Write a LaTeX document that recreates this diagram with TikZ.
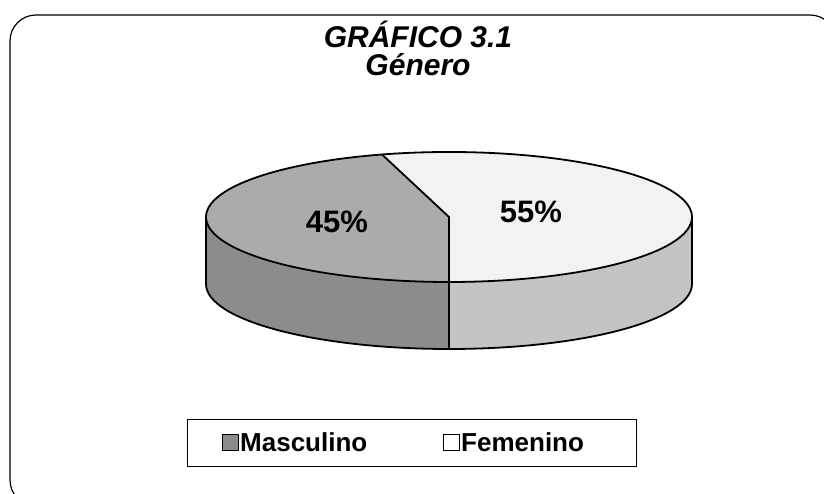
\documentclass[tikz,border=0pt]{standalone}
\usepackage{fontspec}
\setmainfont{Liberation Sans}
\definecolor{mtop}{HTML}{ABABAB}
\definecolor{mside}{HTML}{8C8C8C}
\definecolor{ftop}{HTML}{F2F2F2}
\definecolor{fside}{HTML}{C4C4C4}
\begin{document}
\begin{tikzpicture}[x=1pt,y=1pt,line join=round,
  ttl/.style={font=\fontsize{30}{32}\selectfont\bfseries\itshape,inner sep=0pt,anchor=base},
  lbl/.style={font=\fontsize{31}{33}\selectfont\bfseries,inner sep=0pt},
  legtxt/.style={font=\fontsize{26}{28}\selectfont\bfseries,inner sep=0pt,anchor=west},
  swatch/.style={draw=black,line width=0.8pt,minimum size=16pt,inner sep=0pt},
  pieline/.style={draw=black,line width=1.8pt}]
\useasboundingbox (0,0) rectangle (824,494);
\clip (0,0) rectangle (824,494);
\draw[line width=1.2pt,rounded corners=26pt,fill=white] (10,-12) rectangle (836,479);
\def\cx{449}\def\cy{277}\def\ra{243}\def\rb{65}\def\th{67}\def\ca{106}
\coordinate (c) at (\cx,\cy);
\coordinate (front) at (\cx,\cy-\rb);
\coordinate (frontb) at (\cx,\cy-\rb-\th);
\coordinate (lt) at (\cx-\ra,\cy);
\coordinate (rt) at (\cx+\ra,\cy);
\coordinate (cut) at ({\cx+\ra*cos(\ca)},{\cy+\rb*sin(\ca)});
% sides
\fill[mside] (lt) arc[start angle=180,end angle=270,x radius=\ra pt,y radius=\rb pt]
  -- (frontb) arc[start angle=270,end angle=180,x radius=\ra pt,y radius=\rb pt] -- cycle;
\fill[fside] (front) arc[start angle=270,end angle=360,x radius=\ra pt,y radius=\rb pt]
  -- ++(0,-\th) arc[start angle=360,end angle=270,x radius=\ra pt,y radius=\rb pt] -- cycle;
% tops
\fill[mtop] (c) -- (cut) arc[start angle=\ca,end angle=270,x radius=\ra pt,y radius=\rb pt] -- cycle;
\fill[ftop] (c) -- (front) arc[start angle=-90,end angle=\ca,x radius=\ra pt,y radius=\rb pt] -- cycle;
% outlines
\draw[pieline] (c) ellipse[x radius=\ra pt,y radius=\rb pt];
\draw[pieline] (lt) -- ++(0,-\th) arc[start angle=180,end angle=360,x radius=\ra pt,y radius=\rb pt] -- (rt);
\draw[pieline] (cut) -- (c) -- (front) -- (frontb);
% labels
\node[lbl] (m45) at (337,272) {45\%};
\node[lbl] (f55) at (531,282) {55\%};
% title
\node[ttl] (t1) at (418,446) {GRÁFICO 3.1};
\node[ttl] (t2) at (418,418) {Género};
% legend
\node[draw=black,line width=0.8pt,minimum width=449pt,minimum height=47pt,inner sep=0pt] (leg) at (411.5,51.5) {};
\node[swatch,fill=mside] (sm) at (230,52) {};
\node[legtxt] (tm) at (240,52) {Masculino};
\node[swatch,fill=white] (sf) at (451,52) {};
\node[legtxt] (tf) at (461,52) {Femenino};
\end{tikzpicture}
\end{document}
